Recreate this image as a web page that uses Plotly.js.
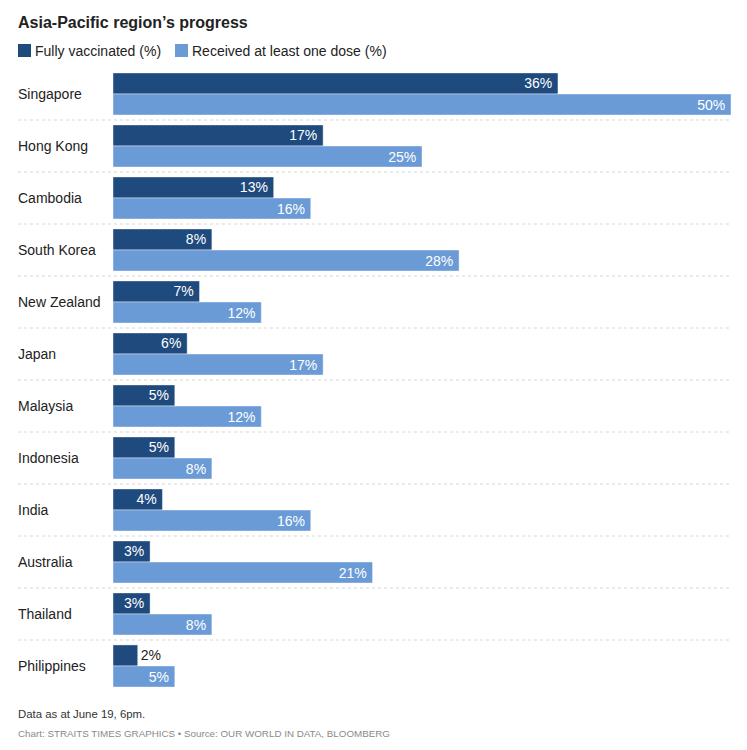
<!DOCTYPE html>
<html>
<head>
<meta charset="utf-8">
<script src="https://cdn.plot.ly/plotly-3.0.1.min.js"></script>
<style>html,body{margin:0;padding:0;background:#fff;}#chart{width:747px;height:750px;}</style>
</head>
<body>
<div id="chart"></div>
<script>
const countries = ["Singapore","Hong Kong","Cambodia","South Korea","New Zealand","Japan","Malaysia","Indonesia","India","Australia","Thailand","Philippines"];
const fullyVaccinated = [36,17,13,8,7,6,5,5,4,3,3,2];
const atLeastOneDose = [50,25,16,28,12,17,12,8,16,21,8,5];
const seriesNames = ["Fully vaccinated (%)","Received at least one dose (%)"];
const titleText = "Asia-Pacific region’s progress";
const noteText = "Data as at June 19, 6pm.";
const sourceText = "Chart: STRAITS TIMES GRAPHICS • Source: OUR WORLD IN DATA, BLOOMBERG";

const DARK = "#1f4a7e", LIGHT = "#6a9bd6";
const FONT = "Liberation Sans, Arial, sans-serif";
const W = 747, H = 750, L = 113, R = 16, T = 68, B = 58;
const plotW = W - L - R, plotH = H - T - B;
const px2paperX = p => (p - L) / plotW;
const px2paperY = p => (H - B - p) / plotH;

function mkTrace(vals, name, color) {
  return {
    type: "bar", orientation: "h", name: name,
    y: countries, x: vals,
    marker: {color: color, line: {color: "rgba(255,255,255,0.7)", width: 0.6}},
    text: vals.map(v => v + "%\u2009"),
    textposition: vals.map(v => v < 3 ? "outside" : "inside"),
    insidetextanchor: "end",
    insidetextfont: {color: "#ffffff", size: 14, family: FONT},
    outsidetextfont: {color: "#222222", size: 14, family: FONT},
    constraintext: "none",
    cliponaxis: false,
    hoverinfo: "none",
    showlegend: false
  };
}

const shapes = [];
for (let i = 0; i < countries.length - 1; i++) {
  shapes.push({type: "line", xref: "paper", yref: "y",
    x0: px2paperX(18), x1: px2paperX(731), y0: i + 0.5, y1: i + 0.5,
    line: {color: "#d6d6d6", width: 1, dash: "dot"}, layer: "below"});
}
// legend swatches
shapes.push({type: "rect", xref: "paper", yref: "paper",
  x0: px2paperX(18), x1: px2paperX(31), y0: px2paperY(57), y1: px2paperY(44),
  fillcolor: DARK, line: {width: 0}});
shapes.push({type: "rect", xref: "paper", yref: "paper",
  x0: px2paperX(175), x1: px2paperX(188), y0: px2paperY(57), y1: px2paperY(44),
  fillcolor: LIGHT, line: {width: 0}});

const annotations = countries.map((c, i) => ({
  xref: "paper", yref: "y", x: px2paperX(16), y: c, xanchor: "left", yanchor: "middle",
  text: c, showarrow: false, font: {size: 14, color: "#222", family: FONT}
}));
annotations.push({xref: "paper", yref: "paper", x: px2paperX(33), y: px2paperY(51), xanchor: "left", yanchor: "middle",
  text: seriesNames[0], showarrow: false, font: {size: 14, color: "#222", family: FONT}});
annotations.push({xref: "paper", yref: "paper", x: px2paperX(190), y: px2paperY(51), xanchor: "left", yanchor: "middle",
  text: seriesNames[1], showarrow: false, font: {size: 14, color: "#222", family: FONT}});
annotations.push({xref: "paper", yref: "paper", x: px2paperX(16), y: px2paperY(714), xanchor: "left", yanchor: "middle",
  text: noteText, showarrow: false, font: {size: 11.4, color: "#333", family: FONT}});
annotations.push({xref: "paper", yref: "paper", x: px2paperX(16), y: px2paperY(733), xanchor: "left", yanchor: "middle",
  text: sourceText, showarrow: false, font: {size: 9.8, color: "#8a8a8a", family: FONT}});

const layout = {
  width: W, height: H,
  margin: {l: L, r: R, t: T, b: B, pad: 0},
  paper_bgcolor: "#fff", plot_bgcolor: "#fff",
  title: {text: "<b>" + titleText + "</b>", xref: "container", yref: "container",
    x: 18 / W, y: 1 - 22 / H, xanchor: "left", yanchor: "middle",
    font: {size: 16, color: "#222", family: FONT}},
  barmode: "group", bargap: 0.19, bargroupgap: 0,
  xaxis: {range: [0, 50], visible: false, fixedrange: true},
  yaxis: {type: "category", categoryorder: "array", categoryarray: countries,
    range: [countries.length - 0.5, -0.5], showticklabels: false, showgrid: false,
    zeroline: false, showline: false, ticks: "", fixedrange: true},
  shapes: shapes,
  annotations: annotations,
  showlegend: false,
  font: {family: FONT}
};

Plotly.newPlot("chart", [mkTrace(fullyVaccinated, seriesNames[0], DARK), mkTrace(atLeastOneDose, seriesNames[1], LIGHT)], layout, {displayModeBar: false, staticPlot: true});
</script>
</body>
</html>
